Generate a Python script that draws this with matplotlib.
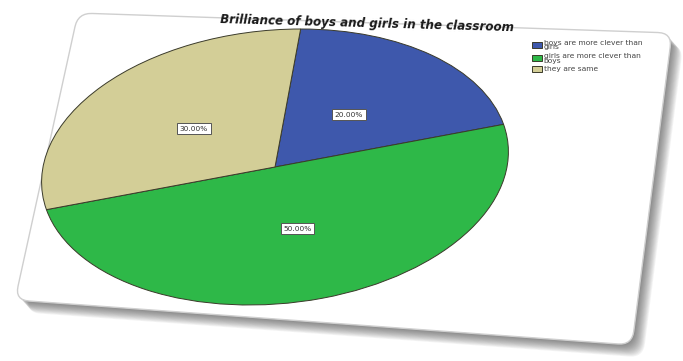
import matplotlib.pyplot as plt
from matplotlib.patches import Polygon
from matplotlib.transforms import Affine2D
import numpy as np

title = "Brilliance of boys and girls in the classroom"
categories = ["boys are more clever than\ngirls", "girls are more clever than\nboys", "they are same"]
shares = [20.0, 50.0, 30.0]
colours = ["#3E58AC", "#2EB848", "#D3CE97"]


def rounded(corners, r=14, n=8):
    # quad with rounded corners
    pts = []
    m = len(corners)
    for i in range(m):
        p = corners[i]
        prev = corners[i - 1]
        nxt = corners[(i + 1) % m]
        d1 = (prev - p) / np.linalg.norm(prev - p)
        d2 = (nxt - p) / np.linalg.norm(nxt - p)
        a1 = p + d1 * r
        a2 = p + d2 * r
        for t in np.linspace(0, 1, n):
            pts.append((1 - t) ** 2 * a1 + 2 * (1 - t) * t * p + t ** 2 * a2)
    return np.array(pts)


fig = plt.figure(figsize=(6.83, 3.61), dpi=100)
fig.patch.set_facecolor("white")

# background axes in pixel units for the tilted card and its shadow
bg = fig.add_axes([0, 0, 1, 1])
bg.set_xlim(0, 683)
bg.set_ylim(361, 0)
bg.axis("off")

card = rounded(np.array([[78.0, 13.0], [672.0, 33.0], [632.0, 345.0], [15.0, 300.0]]))
for k in range(14, 0, -1):
    shadow = card + np.array([k * 0.8, k * 0.9])
    bg.add_patch(Polygon(shadow, closed=True, facecolor="#404040", edgecolor="none", alpha=0.06))
bg.add_patch(Polygon(card, closed=True, facecolor="white", edgecolor="#cfcfcf", linewidth=1.0))

# pie drawn in a stretched axes so it comes out as an ellipse
cx, cy, a, b = 275, 167, 232, 138
ax = fig.add_axes([(cx - a) / 683, 1 - (cy + b) / 361, 2 * a / 683, 2 * b / 361])
wedges, texts, autotexts = ax.pie(shares, colors=colours, startangle=90, counterclock=False,
                                  autopct="%.2f%%", pctdistance=0.47,
                                  wedgeprops=dict(edgecolor="#3a3a2a", linewidth=0.7),
                                  textprops=dict(fontsize=5.3, color="#333333"))
ax.set_aspect("auto")
ax.set_xlim(-1, 1)
ax.set_ylim(-1, 1)
ax.axis("off")

tilt = Affine2D().skew(0.11, 0.0) + ax.transData
for w in wedges:
    w.set_transform(tilt)
for t in autotexts:
    t.set_transform(tilt)
    t.set_bbox(dict(boxstyle="square,pad=0.35", facecolor="white", edgecolor="#555555", linewidth=0.7))

fig.text(220 / 683, 1 - 24 / 361, title, fontsize=8.6, fontweight="heavy", fontstyle="italic",
         color="#1a1a1a", rotation=-1.6, ha="left", va="center")

leg = fig.legend(wedges, categories, loc="upper left", bbox_to_anchor=(528 / 683, 1 - 36 / 361),
                 fontsize=5.4, frameon=False, handlelength=1.3, handleheight=0.9,
                 handletextpad=0.3, labelspacing=0.3, borderpad=0)
for t in leg.get_texts():
    t.set_color("#444444")
    t.set_linespacing(0.75)

fig.savefig("out.png", dpi=100)
